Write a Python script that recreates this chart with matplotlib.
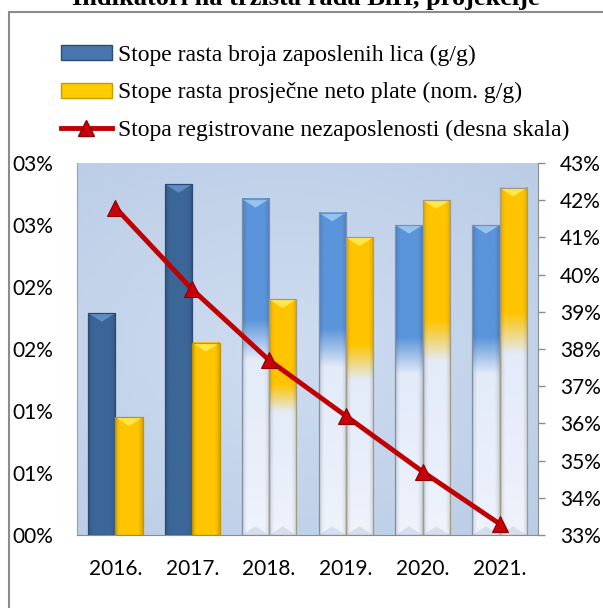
import numpy as np
import matplotlib.pyplot as plt
from matplotlib.patches import Patch, Polygon, Rectangle
from matplotlib.lines import Line2D
from matplotlib.colors import to_rgb
from matplotlib.ticker import FuncFormatter, MultipleLocator

plt.rcParams['font.family'] = ['Lato', 'DejaVu Sans']

godine = ['2016.', '2017.', '2018.', '2019.', '2020.', '2021.']
zaposleni = [1.79, 2.83, 2.71, 2.60, 2.50, 2.50]      # % g/g, lijeva skala
plate = [0.95, 1.55, 1.90, 2.40, 2.70, 2.80]          # % g/g, lijeva skala
nezaposlenost = [41.8, 39.6, 37.7, 36.2, 34.7, 33.3]  # %, desna skala
projekcija = [False, False, True, True, True, True]

naslov = 'Indikatori na tržišta rada BiH, projekcije'
labele = ['Stope rasta broja zaposlenih lica (g/g)',
          'Stope rasta prosječne neto plate (nom. g/g)',
          'Stopa registrovane nezaposlenosti (desna skala)']

W, H = 603, 608
fig = plt.figure(figsize=(W / 100, H / 100), dpi=100)
ax = fig.add_axes([77 / W, 73 / H, 461 / W, 372 / H])

# pozadina sa blagim gradijentom
yy, xx = np.mgrid[0:1:100j, 0:1:100j]
d = np.clip(np.sqrt(((xx - 0.45) / 0.8) ** 2 + ((yy - 0.5) / 0.7) ** 2), 0, 1)
c1 = np.array(to_rgb('#cedcf0'))
c2 = np.array(to_rgb('#bacde6'))
bg = c1 * (1 - d[..., None]) + c2 * d[..., None]
ax.imshow(bg, extent=[0, 1, 0, 1], transform=ax.transAxes, aspect='auto', zorder=0)


def stub(x0, w, h, boja, rub, vrh, proj):
    n = 200
    t = np.linspace(0, 1, n)[:, None]
    c_top = np.array(to_rgb(boja))
    c_pale = np.array(to_rgb('#d9e4f6'))
    c_low = np.array(to_rgb('#eef3fc'))
    if proj:
        k = np.clip((t - 0.36) / 0.12, 0, 1)
        pale = c_pale * (1 - t) + c_low * t
        col = c_top * (1 - k) + pale * k
    else:
        col = np.repeat(c_top[None, :], n, axis=0)
    s = np.abs(np.linspace(-1, 1, 60))
    shade = 1 - 0.16 * np.clip((s - 0.6) / 0.4, 0, 1) ** 1.5
    img = np.clip(col[:, None, :] * shade[None, :, None], 0, 1)
    ax.imshow(img, extent=[x0, x0 + w, 0, h], origin='upper', aspect='auto', zorder=2)
    dv = 0.07
    ax.add_patch(Polygon([[x0, h], [x0 + w, h], [x0 + w / 2, h - dv]],
                         closed=True, facecolor=vrh, edgecolor='none', alpha=0.8, zorder=3))
    if proj:
        ax.add_patch(Polygon([[x0, 0], [x0 + w, 0], [x0 + w / 2, dv]],
                             closed=True, facecolor='#c8d2e4', edgecolor='none', alpha=0.6, zorder=3))
    ax.add_patch(Rectangle((x0, 0), w, h, fill=False, edgecolor=rub, lw=0.9, zorder=4))


bw = 0.355
for i in range(len(godine)):
    if projekcija[i]:
        stub(i - bw, bw, zaposleni[i], '#5a94da', '#7f8fa6', '#a8d0f4', True)
        stub(i, bw, plate[i], '#ffc400', '#a49a80', '#fff060', True)
    else:
        stub(i - bw, bw, zaposleni[i], '#3c6698', '#2a4a72', '#6a97cf', False)
        stub(i, bw, plate[i], '#ffc600', '#c49400', '#fff060', False)

ax.set_xlim(-0.5, len(godine) - 0.5)
ax.set_ylim(0, 3)
ax.set_xticks(range(len(godine)))
ax.set_xticklabels(godine)
ax.yaxis.set_major_locator(MultipleLocator(0.5))
ax.yaxis.set_major_formatter(FuncFormatter(lambda v, p: f"{int(np.floor(v + 0.5 + 1e-9)):02d}%"))
ax.tick_params(axis='y', length=0, pad=17, labelsize=15)
ax.tick_params(axis='x', length=0, pad=17, labelsize=15)
for s in ['top', 'right']:
    ax.spines[s].set_visible(False)
ax.spines['left'].set_color('#a0a0a0')
ax.spines['bottom'].set_color('#8c8c8c')

ax2 = ax.twinx()
ax2.plot(range(len(godine)), nezaposlenost, color='#c00000', lw=3.5, marker='^', ms=12,
         mfc='#c8000a', mec='#8b0000', mew=0.8, zorder=5)
ax2.set_ylim(33, 43)
ax2.yaxis.set_major_locator(MultipleLocator(1))
ax2.yaxis.set_major_formatter(FuncFormatter(lambda v, p: f"{v:.0f}%"))
ax2.tick_params(axis='y', length=5, width=1, color='#8c8c8c', direction='out', pad=11, labelsize=15)
for s in ['top', 'left', 'bottom']:
    ax2.spines[s].set_visible(False)
ax2.spines['right'].set_color('#8c8c8c')

# okvir i naslov (naslov je u originalu odsječen gornjim rubom)
fig.add_artist(Rectangle((9 / W, -0.1), 1.0, 1.1 - 12 / H, transform=fig.transFigure,
                         fill=False, edgecolor='#8c8c8c', lw=1.5))
fig.text(306 / W, 1 - 5 / H, naslov, ha='center', va='baseline', fontsize=19,
         fontweight='bold', family='Liberation Serif')

handles = [Patch(facecolor='#4a76ad', edgecolor='#2b4a74'),
           Patch(facecolor='#ffcc00', edgecolor='#c79a00'),
           Line2D([], [], color='#c00000', lw=3.5, marker='^', ms=12, mfc='#c8000a', mec='#8b0000')]
fig.legend(handles, labele, loc='upper left', bbox_to_anchor=(61 / W, 1 - 45 / H),
           frameon=False, borderpad=0, borderaxespad=0, handlelength=2.15, handleheight=0.6,
           handletextpad=0.25, labelspacing=0.68, prop={'family': 'Liberation Serif', 'size': 17})

fig.savefig('out.png', dpi=100)
